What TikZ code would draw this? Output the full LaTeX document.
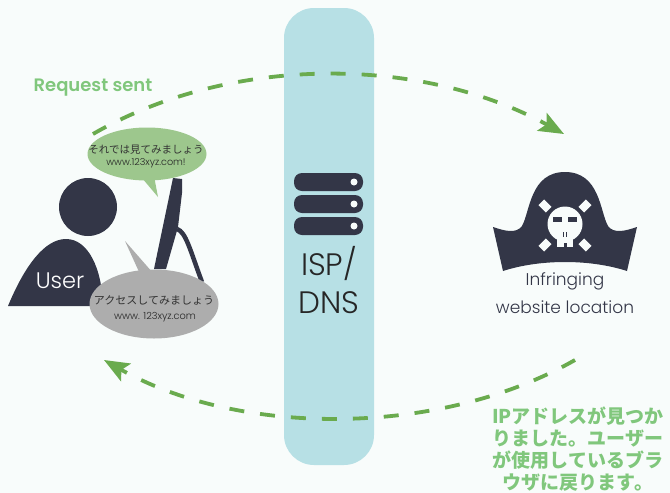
\documentclass[tikz,border=0pt]{standalone}
\usepackage{fontspec}
\setmainfont{Poppins}[UprightFont=* Light,BoldFont=* SemiBold]
\newfontfamily\jpfont{Noto Sans CJK JP}
\usetikzlibrary{shapes.geometric,arrows.meta}
\definecolor{pagebg}{HTML}{F8FCFB}
\definecolor{bandblue}{HTML}{B7E0E5}
\definecolor{navy}{HTML}{333647}
\definecolor{dashgreen}{HTML}{6AAB4E}
\definecolor{textgreen}{HTML}{80C77C}
\definecolor{bubblegreen}{HTML}{9DC78D}
\definecolor{bubblegray}{HTML}{ADADAD}
\tikzset{
  flow/.style={draw=dashgreen,line width=3.8pt,dash pattern=on 15pt off 16pt,-{Stealth[length=25pt,width=20pt,inset=5pt]}},
  serverbar/.style={draw=none,fill=navy,rounded corners=8pt,minimum width=69pt,minimum height=18pt,inner sep=0pt},
  serverdot/.style={circle,fill=pagebg,minimum size=7pt,inner sep=0pt},
  bone/.style={fill=pagebg,minimum width=10.5pt,minimum height=8pt,inner sep=0pt},
  bubble/.style={ellipse,inner sep=0pt,align=center,text=black!80},
  jpsmall/.style={font=\jpfont\fontsize{10.5}{13}\selectfont}
}
\begin{document}
\begin{tikzpicture}[x=1pt,y=-1pt]
\fill[pagebg] (0,0) rectangle (670,493);
\useasboundingbox (0,0) rectangle (670,493);
\node[fill=bandblue,rounded corners=30pt,minimum width=90pt,minimum height=457pt,inner sep=0pt] (band) at (329,236.5) {};
%
\coordinate (sentstart) at (93,134);
\coordinate (sentend) at (564,134);
\coordinate (backstart) at (575,360);
\coordinate (backend) at (104,360);
\draw[flow] (sentstart) .. controls (230,55) and (420,55) .. (sentend);
\draw[flow] (backstart) .. controls (440,437) and (240,437) .. (backend);
%
\foreach \i/\y in {1/182,2/204,3/226}{
  \node[serverbar] (bar\i) at (328.5,\y) {};
  \node[serverdot] (dot\i) at (354,\y) {};
}
\node[font=\fontsize{31}{31}\selectfont,text=black!85] (isp) at (329,263) {ISP/};
\node[font=\fontsize{31}{31}\selectfont,text=black!85] (dns) at (329,303) {DNS};
%
\fill[navy] (173,178) -- (182,179) -- (182,193) -- (178,227) -- (166,269) -- (154,269) -- cycle;
\draw[navy,line width=4.5pt] (177,229) .. controls (186,232) and (190,250) .. (202,282);
\node[circle,fill=navy,minimum size=58pt,inner sep=0pt] (head) at (88,207) {};
\fill[navy] (8,306) .. controls (25,265) and (45,239) .. (66,239) .. controls (88,239) and (102,268) .. (103,306) -- cycle;
\node[font=\fontsize{22.5}{24}\selectfont,text=white] (user) at (60,281) {User};
%
\fill[bubblegreen] (142,178) -- (158,197) -- (154,176) -- cycle;
\node[bubble,fill=bubblegreen,minimum width=119pt,minimum height=53pt] (seen) at (147,154) {};
\node[jpsmall,text=black!80,inner sep=0pt] (seenjp) at (146,150) {それでは見てみましょう};
\node[font=\fontsize{9.6}{10}\selectfont,text=black!85,inner sep=0pt] (seenurl) at (146,163) {www.123xyz.com!};
\fill[bubblegray] (125,241) -- (140,274) -- (153,273) -- cycle;
\node[bubble,fill=bubblegray,minimum width=129pt,minimum height=69pt] (ask) at (154,304) {};
\node[font=\jpfont\fontsize{11}{13}\selectfont,text=black!80,inner sep=0pt] (askjp) at (154,300) {アクセスしてみましょう};
\node[font=\fontsize{9.8}{10}\selectfont,text=black!85,inner sep=0pt] (askurl) at (155,317) {www. 123xyz.com};
%
\fill[navy] (493,227) .. controls (505,231) and (516,234) .. (522,226) .. controls (530,212) and (530,172) .. (565,172) .. controls (600,172) and (600,212) .. (608,226) .. controls (614,234) and (625,231) .. (637,227) -- (627,271) .. controls (590,259) and (540,259) .. (503,271) -- cycle;
\node[circle,fill=pagebg,minimum size=35pt,inner sep=0pt] (skull) at (565,224) {};
\fill[pagebg] (557,234) rectangle (573,247);
\fill[navy] (563.5,243) rectangle (566.5,247);
\fill[navy] (553,217) rectangle (562,222);
\fill[navy] (568,217) rectangle (577,222);
\draw[navy,line width=0.8pt] (563.5,232) -- (563.5,237);
\draw[navy,line width=0.8pt] (566.5,232) -- (566.5,237);
\node[bone,rotate=-45] (bonea) at (545,206) {};
\node[bone,rotate=45] (boneb) at (585,206) {};
\node[bone,rotate=45] (bonec) at (545,245) {};
\node[bone,rotate=-45] (boned) at (585,245) {};
\node[font=\fontsize{17}{17}\selectfont,text=navy] (infringing) at (565,281) {Infringing};
\node[font=\fontsize{17}{17}\selectfont,text=navy] (website) at (565,307) {website location};
%
\node[font=\fontsize{18}{18}\selectfont\bfseries,text=textgreen] (sent) at (93,88) {Request sent};
\node[font=\jpfont\fontsize{19}{21.8}\selectfont\bfseries,text=textgreen,align=center,inner sep=0pt] (found) at (578,449) {IPアドレスが見つか\\りました。ユーザー\\が使用しているブラ\\ウザに戻ります。};
\end{tikzpicture}
\end{document}
